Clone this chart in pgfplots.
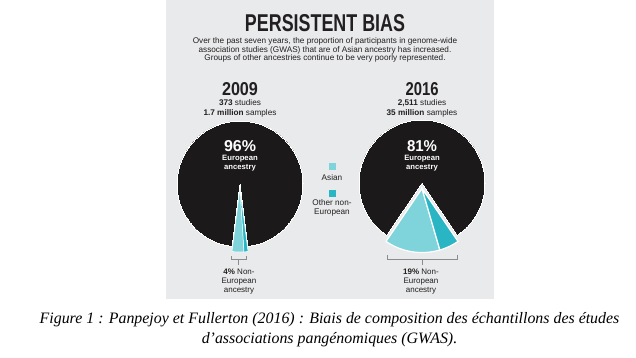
\documentclass[border=0pt]{standalone}
\usepackage{graphicx}
\usepackage{pgfplots}
\pgfplotsset{compat=1.18}
\usepackage{fontspec}
\setmainfont{Liberation Serif}
\newfontfamily\sans{Liberation Sans}
\definecolor{panel}{HTML}{E8EAEB}
\definecolor{pieblack}{HTML}{1C191A}
\definecolor{asian}{HTML}{7FD3DB}
\definecolor{othernon}{HTML}{2AB5C5}
\definecolor{txt}{HTML}{231F20}
\definecolor{brk}{HTML}{8A8C8E}
% slice: cx, cy, r, start angle, end angle, colour, border width
\newcommand{\slice}[7]{%
  \addplot[fill=#6, draw=white, line width=#7, domain=#4:#5, samples=80, variable=\t]
    ({#1+#3*cos(\t)},{#2+#3*sin(\t)}) -- (axis cs:#1,#2) -- cycle;
}
\begin{document}
\begin{tikzpicture}
\begin{axis}[x=1bp, y=1bp, xmin=0, xmax=636, ymin=0, ymax=357,
  hide axis, scale only axis, clip=false, anchor=origin, at={(0,0)}]
% background and panel
\addplot[fill=white, draw=none] coordinates {(0,0) (636,0) (636,357) (0,357)} -- cycle;
\addplot[fill=panel, draw=none] coordinates {(166,58) (494,58) (494,357) (166,357)} -- cycle;
% ---- 2009: European 96, Asian 3, Other 1 ----
\slice{240}{173}{63}{277.2}{622.8}{pieblack}{0pt}
\slice{240}{169}{64}{262.8}{273.6}{asian}{0.5pt}
\slice{240}{169}{64}{273.6}{277.2}{othernon}{0.5pt}
% ---- 2016: European 81, Asian 14, Other 5 ----
\slice{422}{174}{63}{304.2}{595.8}{pieblack}{0pt}
\slice{422}{168.5}{64}{235.8}{286.2}{asian}{1.2pt}
\slice{422}{168.5}{64}{286.2}{304.2}{othernon}{1.2pt}
% brackets
\addplot[brk, line width=0.5pt] coordinates {(231,101) (231,98) (246,98) (246,101)};
\addplot[brk, line width=0.5pt] coordinates {(238.5,98) (238.5,92)};
\addplot[brk, line width=0.5pt] coordinates {(387,102) (387,98) (457,98) (457,102)};
\addplot[brk, line width=0.5pt] coordinates {(422,98) (422,92)};
% legend squares
\addplot[fill=asian, draw=none] coordinates {(328.5,187.5) (335.5,187.5) (335.5,194.5) (328.5,194.5)} -- cycle;
\addplot[fill=othernon, draw=none] coordinates {(328.5,160.5) (335.5,160.5) (335.5,167.5) (328.5,167.5)} -- cycle;
% texts
\node[txt] at (axis cs:325,333.5) {\resizebox{160bp}{17bp}{\sans\bfseries PERSISTENT BIAS}};
\node[txt, align=center, font=\sans\fontsize{8.2bp}{7.4bp}\selectfont] at (axis cs:325,307)
  {Over the past seven years, the proportion of participants in genome-wide\\
   association studies (GWAS) that are of Asian ancestry has increased.\\
   Groups of other ancestries continue to be very poorly represented.};
\node[txt] at (axis cs:240,267.5) {\resizebox{36bp}{13bp}{\sans\bfseries 2009}};
\node[txt] at (axis cs:422,267.5) {\resizebox{33bp}{13bp}{\sans\bfseries 2016}};
\node[txt, align=center, font=\sans\fontsize{8.2bp}{10bp}\selectfont] at (axis cs:240,249)
  {\textbf{373} studies\\ \textbf{1.7 million} samples};
\node[txt, align=center, font=\sans\fontsize{8.2bp}{10bp}\selectfont] at (axis cs:422,249)
  {\textbf{2,511} studies\\ \textbf{35 million} samples};
\node[white] at (axis cs:240,210.5) {\resizebox{32bp}{11bp}{\sans\bfseries 96\%}};
\node[white] at (axis cs:422,210.5) {\resizebox{30bp}{11bp}{\sans\bfseries 81\%}};
\node[white, align=center, font=\sans\bfseries\fontsize{7.7bp}{9bp}\selectfont] at (axis cs:240,193.5)
  {European\\ ancestry};
\node[white, align=center, font=\sans\bfseries\fontsize{7.7bp}{9bp}\selectfont] at (axis cs:422,193.5)
  {European\\ ancestry};
\node[txt, align=center, font=\sans\fontsize{8bp}{9bp}\selectfont] at (axis cs:239,75)
  {\textbf{4\%} Non-\\ European\\ ancestry};
\node[txt, align=center, font=\sans\fontsize{8bp}{9bp}\selectfont] at (axis cs:421,75)
  {\textbf{19\%} Non-\\ European\\ ancestry};
\node[txt, font=\sans\fontsize{8.2bp}{9bp}\selectfont] at (axis cs:332,179) {Asian};
\node[txt, align=center, font=\sans\fontsize{8.2bp}{9bp}\selectfont] at (axis cs:332,149.5)
  {Other non-\\ European};
% caption
\node[align=center, font=\itshape\fontsize{15.9bp}{20bp}\selectfont] at (axis cs:329.5,27)
  {Figure 1 : Panpejoy et Fullerton (2016) : Biais de composition des échantillons des études\\
   d’associations pangénomiques (GWAS).};
\end{axis}
\end{tikzpicture}
\end{document}
